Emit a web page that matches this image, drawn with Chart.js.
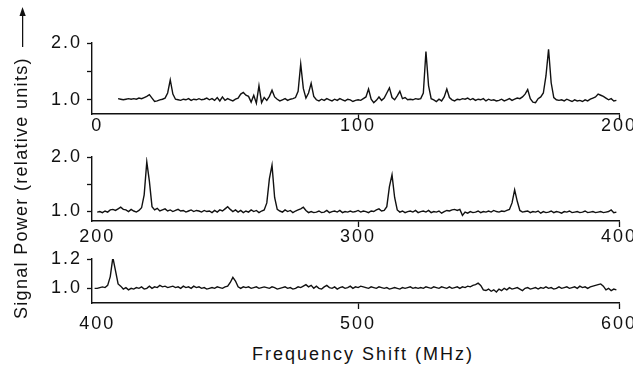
<!DOCTYPE html>
<html>
<head>
<meta charset="utf-8">
<script src="https://cdn.jsdelivr.net/npm/chart.js@4.4.1/dist/chart.umd.min.js"></script>
<style>
  html, body { margin:0; padding:0; background:#fff; width:633px; height:371px; overflow:hidden; }
  canvas { position:absolute; left:0; }
  .title { position:absolute; white-space:nowrap; font-family:"Liberation Sans", Arial, sans-serif; font-size:18px; line-height:20px; color:#111; }
  #ytitle { left:11px; top:319px; transform-origin:0 0; transform:rotate(-90deg); letter-spacing:1.3px; }
  #xtitle { left:363px; top:344px; transform:translateX(-50%); letter-spacing:2px; }
  #ytitle svg { vertical-align:top; margin-left:10px; }
</style>
</head>
<body>
<canvas id="c1" width="660" height="140" style="top:0px"></canvas>
<canvas id="c2" width="660" height="117" style="top:130px"></canvas>
<canvas id="c3" width="660" height="100" style="top:235px"></canvas>
<div id="ytitle" class="title"><span>Signal Power (relative units)</span><svg width="40" height="20"><line x1="0" y1="11.6" x2="33" y2="11.6" stroke="#111" stroke-width="1.3"/><polygon points="31,8.4 40,11.6 31,14.8" fill="#111"/></svg></div>
<div id="xtitle" class="title">Frequency Shift (MHz)</div>
<script>
// ---------- data ----------
// Panel 1: 0–200 MHz, samples every 1 MHz starting at 8 MHz
const panel1StartMHz = 8;
const panel1Power = [
  1.02,1.01,1.00,1.01,1.02,1.01,1.02,1.01,1.03,1.02,
  1.04,1.06,1.09,1.03,0.97,0.98,1.00,1.01,1.03,1.12,
  1.35,1.10,1.01,1.00,0.99,1.01,1.00,1.02,0.99,1.01,
  1.00,1.02,1.00,1.01,1.03,1.00,1.02,0.99,1.04,0.98,
  1.05,0.99,1.02,1.00,0.98,1.01,1.03,1.10,1.13,1.08,
  1.06,0.96,1.08,0.94,1.25,0.95,1.04,0.99,1.06,1.17,
  1.05,1.01,0.98,1.00,1.02,0.99,1.01,1.02,1.04,1.15,
  1.63,1.20,1.03,1.12,1.29,1.06,1.00,0.98,1.01,0.99,
  1.02,1.00,0.98,1.01,0.99,1.02,1.00,0.98,1.01,1.00,
  0.97,0.99,1.00,0.99,1.02,1.05,1.19,1.01,0.95,0.99,
  1.05,0.99,1.03,1.12,1.21,1.04,1.00,1.07,1.15,1.02,
  1.04,1.00,1.01,1.00,1.02,1.01,1.02,1.12,1.85,1.25,
  1.02,1.00,0.97,1.01,0.98,1.05,1.19,1.04,1.00,0.98,
  1.01,1.00,1.02,1.01,1.03,1.00,1.02,0.99,1.01,1.00,
  1.02,0.98,1.01,0.99,1.00,0.98,0.99,1.01,0.98,1.00,
  1.02,0.99,1.01,1.03,1.02,1.05,1.10,1.18,1.02,0.96,
  0.95,1.02,1.05,1.12,1.42,1.89,1.30,1.04,1.00,0.99,
  1.00,0.98,1.01,0.99,0.97,1.00,0.98,0.99,0.97,1.00,
  0.98,1.01,1.03,1.05,1.10,1.08,1.06,1.03,1.00,1.02,
  0.98,0.99
];
// Panel 2: 200–400 MHz, samples every 1 MHz starting at 200 MHz
const panel2StartMHz = 200;
const panel2Power = [
  0.98,0.99,0.97,1.00,0.98,1.02,1.03,1.01,1.04,1.07,
  1.03,1.02,0.99,1.03,1.00,0.98,1.01,1.06,1.30,1.91,
  1.55,1.08,1.02,1.05,1.00,1.02,1.04,1.00,1.02,0.99,
  1.01,1.03,1.00,1.01,0.98,1.00,1.02,0.99,1.01,1.00,
  0.98,1.01,0.99,1.00,0.97,1.01,0.98,1.02,1.00,1.04,
  1.08,1.03,0.99,1.02,0.98,1.01,0.97,1.00,0.98,1.02,
  0.99,1.01,0.97,1.00,1.02,1.15,1.60,1.85,1.25,1.03,
  1.00,0.98,1.02,0.99,1.01,0.97,1.00,1.02,1.04,1.07,
  1.01,0.97,0.99,0.97,0.98,1.00,0.97,0.98,1.01,0.97,
  0.99,1.00,0.98,1.01,0.97,0.99,0.98,1.00,0.98,0.99,
  1.01,0.98,1.00,0.99,0.97,1.00,0.99,1.02,1.04,1.00,
  1.01,1.08,1.45,1.67,1.25,1.02,0.98,1.00,0.97,0.99,
  1.00,0.98,1.01,0.97,0.99,1.00,0.98,1.01,0.97,0.99,
  0.98,1.00,0.96,0.99,1.01,1.00,1.02,1.03,1.01,1.03,
  0.92,0.98,0.96,0.99,0.97,0.98,1.00,0.97,0.99,0.98,
  1.00,0.98,1.01,0.99,0.98,1.00,0.99,1.01,1.03,1.15,
  1.39,1.18,1.01,0.98,0.99,1.00,0.97,0.99,0.98,1.00,
  0.96,0.99,0.97,0.98,1.00,0.97,0.99,0.98,0.96,0.99,
  0.98,1.00,0.97,0.98,0.99,0.97,0.98,1.00,0.97,0.98,
  0.99,0.97,0.98,0.99,0.97,0.98,0.99,1.02,0.97,0.98
];
// Panel 3: 400–600 MHz, samples every 1 MHz starting at 399 MHz
const panel3StartMHz = 399;
const panel3Power = [
  1.00,1.00,1.005,1.01,1.005,1.02,1.08,1.21,1.12,1.03,
  1.015,0.995,1.005,0.99,1.00,0.995,1.005,1.00,1.01,0.995,
  1.00,1.015,1.00,1.01,1.005,1.02,1.01,1.015,1.005,1.01,
  1.015,1.005,1.01,1.00,1.015,1.005,1.01,1.00,1.015,1.005,
  1.01,1.00,1.005,0.995,1.00,1.005,1.00,1.01,1.005,1.00,
  1.01,1.015,1.04,1.075,1.05,1.01,1.00,1.01,1.005,1.01,
  1.00,1.005,1.01,1.00,1.005,1.01,1.005,1.00,1.01,1.005,
  0.995,1.00,1.005,1.01,1.00,1.005,0.995,1.00,1.01,1.005,
  1.015,1.025,1.01,1.02,1.00,1.015,1.00,0.995,1.01,1.02,
  1.005,1.00,1.01,0.995,1.005,1.01,1.00,1.005,1.015,1.00,
  1.01,1.005,1.015,1.01,1.005,1.00,1.01,1.005,1.00,1.01,
  1.005,1.00,1.005,0.995,1.00,1.005,1.00,0.995,1.005,1.00,
  1.005,1.01,1.00,1.005,1.00,1.005,1.00,1.01,1.005,1.00,
  1.01,1.005,1.00,1.01,1.005,1.00,1.01,1.00,1.005,1.01,
  1.00,1.01,1.005,1.015,1.01,1.02,1.025,1.035,1.02,0.99,
  0.985,0.995,0.98,0.99,0.975,0.995,0.985,1.00,0.99,1.005,
  0.995,1.00,1.005,0.995,0.985,1.00,1.005,0.995,1.00,1.005,
  0.995,1.005,1.00,1.01,1.00,1.005,0.995,1.00,1.01,1.00,
  1.005,1.01,1.00,1.005,1.01,1.00,1.015,1.005,1.01,1.00,
  1.01,1.015,1.02,1.025,1.03,1.015,0.99,1.00,0.985,0.995,
  0.99
];
const sampleStepMHz = 1;

// axis ranges and tick labels
const panel1XRange = [-2, 200];   const panel1XTicks = [0, 100, 200];   const panel1XLabels = ['0', '100', '200'];
const panel2XRange = [198, 400];  const panel2XTicks = [200, 300, 400]; const panel2XLabels = ['200', '300', '400'];
const panel3XRange = [398, 600];  const panel3XTicks = [400, 500, 600]; const panel3XLabels = ['400', '500', '600'];
const panel1YRange = [0.75, 2.0]; const panel1YTicks = [1.0, 1.5, 2.0]; const panel1YLabels = ['1.0', '', '2.0'];
const panel2YRange = [0.815, 2.0]; const panel2YTicks = [1.0, 1.5, 2.0]; const panel2YLabels = ['1.0', '', '2.0'];
const panel3YRange = [0.9, 1.2];  const panel3YTicks = [1.0, 1.2];      const panel3YLabels = ['1.0', '1.2'];

// ---------- drawing ----------
const FONT = '"Liberation Sans", Arial, sans-serif';
const INK = '#111';
const spacingPlugin = { id: 'spacing', beforeDraw(chart) { chart.ctx.letterSpacing = '2px'; } };

function toPoints(start, values) {
  return values.map((v, i) => ({ x: start + i * sampleStepMHz, y: v }));
}

function makePanel(id, points, xr, xt, xl, yr, yt, yl, padTop, xAxisH, labelPad) {
  new Chart(document.getElementById(id), {
    type: 'line',
    data: { datasets: [{ data: points, borderColor: INK, borderWidth: 1.4, pointRadius: 0, tension: 0, fill: false }] },
    plugins: [spacingPlugin],
    options: {
      responsive: false, animation: false, devicePixelRatio: 1,
      layout: { padding: { left: 0, right: 41, top: padTop, bottom: 0 } },
      plugins: { legend: { display: false }, tooltip: { enabled: false } },
      scales: {
        x: {
          type: 'linear', min: xr[0], max: xr[1],
          afterBuildTicks: s => { s.ticks = xt.map(v => ({ value: v })); },
          afterFit: s => { s.height = xAxisH; },
          ticks: { autoSkip: false, maxRotation: 0, padding: labelPad, color: INK,
                   font: { family: FONT, size: 18, lineHeight: 1 },
                   callback: (v, i) => xl[i] },
          grid: { drawOnChartArea: false, drawTicks: true, tickLength: 6, tickWidth: 1.3,
                  tickColor: c => (c.index === 0 ? 'rgba(0,0,0,0)' : INK) },
          border: { display: true, color: INK, width: 1.4 }
        },
        y: {
          type: 'linear', min: yr[0], max: yr[1],
          afterBuildTicks: s => { s.ticks = yt.map(v => ({ value: v })); },
          afterFit: s => { s.width = 92; },
          ticks: { autoSkip: false, padding: 5, color: INK,
                   font: { family: FONT, size: 18, lineHeight: 1 },
                   callback: (v, i) => yl[i] },
          grid: { drawOnChartArea: false, drawTicks: true, tickLength: 5, tickWidth: 1.3, tickColor: INK },
          border: { display: true, color: INK, width: 1.4 }
        }
      }
    }
  });
}

makePanel('c1', toPoints(panel1StartMHz, panel1Power), panel1XRange, panel1XTicks, panel1XLabels,
          panel1YRange, panel1YTicks, panel1YLabels, 43, 26, -3);
makePanel('c2', toPoints(panel2StartMHz, panel2Power), panel2XRange, panel2XTicks, panel2XLabels,
          panel2YRange, panel2YTicks, panel2YLabels, 27, 26, 1.5);
makePanel('c3', toPoints(panel3StartMHz, panel3Power), panel3XRange, panel3XTicks, panel3XLabels,
          panel3YRange, panel3YTicks, panel3YLabels, 24, 32, 6.5);
</script>
</body>
</html>
